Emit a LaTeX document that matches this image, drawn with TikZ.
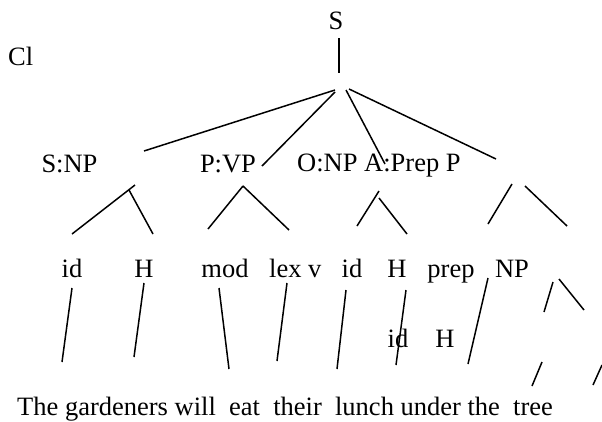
\documentclass[tikz,border=0pt]{standalone}
\usepackage{fontspec}
\setmainfont{Liberation Serif}
\begin{document}
\begin{tikzpicture}[x=1pt,y=-1pt,
  lbl/.style={inner sep=0pt,anchor=base,font=\fontsize{26.5}{32}\selectfont},
  wrd/.style={inner sep=0pt,anchor=base west,font=\fontsize{26.5}{32}\selectfont},
  edge/.style={line width=1.5pt}]
\useasboundingbox (0,0) rectangle (602,421);

% clause label and root
\node[wrd] (cl) at (8,65) {Cl};
\node[lbl] (s) at (336,29) {S};

% functional constituents
\node[lbl] (snp) at (69.5,172) {S:NP};
\node[lbl] (pvp) at (228,172) {P:VP};
\node[wrd] (onp) at (297,171) {O:NP};
\node[wrd] (app) at (364,171) {A:Prep P};

% second level
\node[lbl] (id1) at (72,277) {id};
\node[lbl] (h1) at (144,277) {H};
\node[lbl] (mod) at (225,277) {mod};
\node[wrd] (lex) at (269,277) {lex v};
\node[lbl] (id2) at (352,277) {id};
\node[lbl] (h2) at (397,277) {H};
\node[lbl] (prep) at (451,277) {prep};
\node[lbl] (np) at (512,277) {NP};

% third level
\node[lbl] (id3) at (398,347) {id};
\node[lbl] (h3) at (445,347) {H};

% the sentence
\node[wrd] (sentence) at (17,415)
  {The gardeners will\ \ eat\ \ their\ \ lunch under the\ \ tree};

% branch end points
\coordinate (sTop) at (339,38);
\coordinate (sBot) at (339,73);
\coordinate (rA) at (335,90);
\coordinate (rB) at (335,92);
\coordinate (rC) at (346,90);
\coordinate (rD) at (349,89);
\coordinate (snpEnd) at (144,151);
\coordinate (pvpEnd) at (262,166);
\coordinate (appEnd) at (385,164);
\coordinate (ppEnd) at (496,159);

\coordinate (snpL) at (135,185);
\coordinate (snpR) at (129,190);
\coordinate (id1Top) at (72,234);
\coordinate (h1Top) at (153,234);
\coordinate (pvpA) at (243,186);
\coordinate (modTop) at (208,229);
\coordinate (lexTop) at (289,230);
\coordinate (onpL) at (379,191);
\coordinate (onpR) at (379,198);
\coordinate (id2Top) at (357,226);
\coordinate (h2Top) at (407,234);
\coordinate (ppL) at (512,184);
\coordinate (ppR) at (525,186);
\coordinate (prepTop) at (488,224);
\coordinate (npTop) at (567,226);

\coordinate (id1B) at (72,288);   \coordinate (theT) at (62,362);
\coordinate (h1B) at (144,283);   \coordinate (garT) at (134,357);
\coordinate (modB) at (219,288);  \coordinate (willT) at (229,369);
\coordinate (lexB) at (287,283);  \coordinate (eatT) at (277,361);
\coordinate (id2B) at (346,290);  \coordinate (theirT) at (337,369);
\coordinate (h2B) at (406,290);   \coordinate (lunchT) at (396,365);
\coordinate (npB) at (488,278);   \coordinate (underT) at (468,364);
\coordinate (npL) at (553,282);   \coordinate (npLb) at (544,312);
\coordinate (npR) at (559,279);   \coordinate (npRb) at (584,310);
\coordinate (idL) at (542,362);   \coordinate (idLb) at (532,386);
\coordinate (hR) at (602,365);    \coordinate (hRb) at (593,385);

% branches
\draw[edge] (sTop) -- (sBot);
\draw[edge] (rA) -- (snpEnd);
\draw[edge] (rB) -- (pvpEnd);
\draw[edge] (rC) -- (appEnd);
\draw[edge] (rD) -- (ppEnd);

\draw[edge] (snpL) -- (id1Top);
\draw[edge] (snpR) -- (h1Top);
\draw[edge] (pvpA) -- (modTop);
\draw[edge] (pvpA) -- (lexTop);
\draw[edge] (onpL) -- (id2Top);
\draw[edge] (onpR) -- (h2Top);
\draw[edge] (ppL) -- (prepTop);
\draw[edge] (ppR) -- (npTop);

\draw[edge] (id1B) -- (theT);
\draw[edge] (h1B) -- (garT);
\draw[edge] (modB) -- (willT);
\draw[edge] (lexB) -- (eatT);
\draw[edge] (id2B) -- (theirT);
\draw[edge] (h2B) -- (lunchT);
\draw[edge] (npB) -- (underT);
\draw[edge] (npL) -- (npLb);
\draw[edge] (npR) -- (npRb);
\draw[edge] (idL) -- (idLb);
\draw[edge] (hR) -- (hRb);
\end{tikzpicture}
\end{document}
